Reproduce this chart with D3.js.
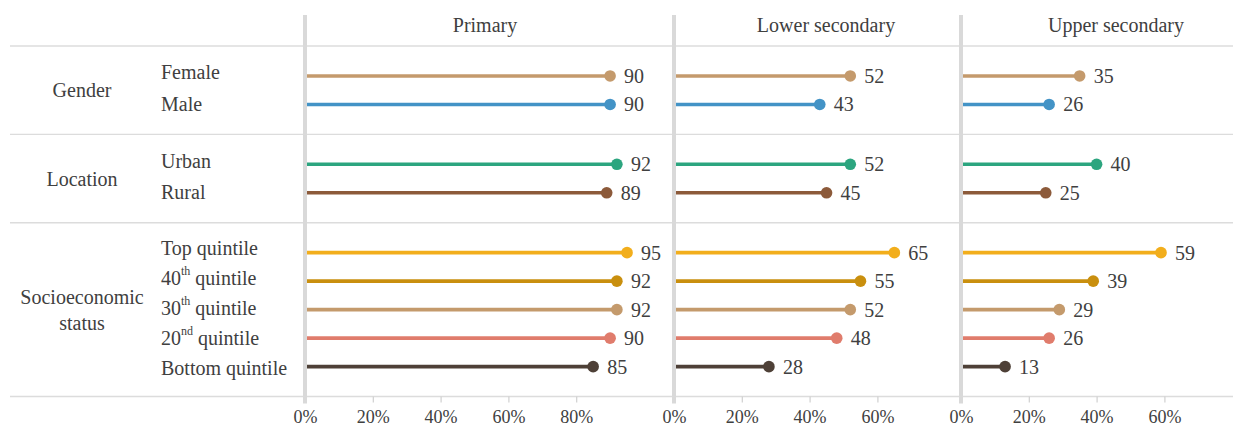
<!DOCTYPE html>
<html>
<head>
<meta charset="utf-8">
<script src="https://cdn.jsdelivr.net/npm/d3@7"></script>
<style>
  html, body { margin: 0; padding: 0; background: #fff; }
  svg { display: block; }
  text { font-family: "Liberation Serif", "DejaVu Serif", serif; fill: #404040; }
</style>
</head>
<body>
<svg id="chart" width="1237" height="426"></svg>
<script>
// ---------- data ----------
const groups = ["Gender", "Location", "Socioeconomic status"];
const groupRows = [
  ["Female", "Male"],
  ["Urban", "Rural"],
  ["Top quintile", "40th quintile", "30th quintile", "20nd quintile", "Bottom quintile"]
];
const levels = ["Primary", "Lower secondary", "Upper secondary"];
const primary        = [90, 90, 92, 89, 95, 92, 92, 90, 85];
const lowerSecondary = [52, 43, 52, 45, 65, 55, 52, 48, 28];
const upperSecondary = [35, 26, 40, 25, 59, 39, 29, 26, 13];
const rowColors = ["#c49a6c", "#4393c6", "#2ca57f", "#8c5a3a", "#f2ae1c", "#c98f0e", "#c49a6c", "#e07c6c", "#4e4037"];
const tickValues = [[0, 20, 40, 60, 80], [0, 20, 40, 60], [0, 20, 40, 60]];
const domainMax = [108.8, 84.7, 79.6];

// ---------- layout ----------
const svg = d3.select("#chart");
const pxPerPct = 3.39;
const panelStart = [305, 674, 961];
const titleX = [485, 826, 1116];
const topY = 46, step = 28.5, groupPad = 1.05;
const leftEdge = 10, rightEdge = 1233;

const seriesByLevel = [primary, lowerSecondary, upperSecondary];
const allRows = groupRows.flat();

// group bands
let gTop = topY;
const groupBands = groupRows.map(rows => {
  const h = (rows.length - 1 + 2 * groupPad) * step;
  const b = { y0: gTop, y1: gTop + h };
  gTop += h;
  return b;
});
const bottomY = gTop;

// y scales per group (marks) and label scales
const yMark = {};
const yLabel = {};
groupRows.forEach((rows, gi) => {
  const b = groupBands[gi];
  const s = d3.scalePoint().domain(rows).range([b.y0, b.y1]).padding(groupPad);
  const l = d3.scalePoint().domain(rows).range([b.y0, b.y1]).padding(0.9);
  rows.forEach(r => { yMark[r] = s(r); yLabel[r] = l(r) - 2; });
});

// x scales per panel
const xScales = levels.map((lv, i) =>
  d3.scaleLinear().domain([0, domainMax[i]]).range([panelStart[i], panelStart[i] + domainMax[i] * pxPerPct])
);

// horizontal grid lines
const hLines = [groupBands[0].y0, ...groupBands.map(b => b.y1)];
svg.append("g").selectAll("line").data(hLines).join("line")
  .attr("x1", leftEdge).attr("x2", rightEdge)
  .attr("y1", d => d).attr("y2", d => d)
  .attr("stroke", "#dcdcdc").attr("stroke-width", 1.4);

// axis ticks
levels.forEach((lv, i) => {
  const x = xScales[i];
  const axis = d3.axisBottom(x).tickValues(tickValues[i]).tickFormat(d => d + "%").tickSize(6).tickPadding(4);
  const g = svg.append("g").attr("transform", `translate(0,${bottomY})`).call(axis);
  g.select(".domain").remove();
  g.selectAll(".tick line").attr("stroke", "#d0d0d0").attr("stroke-width", 1.2);
  g.selectAll(".tick text")
    .attr("font-family", "Liberation Serif, serif")
    .attr("font-size", 18).attr("fill", "#404040").attr("dy", "0.9em");
});

// lollipops
levels.forEach((lv, i) => {
  const x = xScales[i];
  const vals = seriesByLevel[i];
  const data = allRows.map((r, k) => ({ row: r, v: vals[k], c: rowColors[k] }));
  const g = svg.append("g");
  g.selectAll("line").data(data).join("line")
    .attr("x1", x(0)).attr("x2", d => x(d.v))
    .attr("y1", d => yMark[d.row]).attr("y2", d => yMark[d.row])
    .attr("stroke", d => d.c).attr("stroke-width", 3.6);
  g.selectAll("circle").data(data).join("circle")
    .attr("cx", d => x(d.v)).attr("cy", d => yMark[d.row]).attr("r", 5.8)
    .attr("fill", d => d.c);
  g.selectAll("text").data(data).join("text")
    .attr("x", d => x(d.v) + 14).attr("y", d => yMark[d.row])
    .attr("dominant-baseline", "central")
    .attr("font-size", 20)
    .text(d => d.v);
});

// panel dividers
svg.append("g").selectAll("line").data(panelStart).join("line")
  .attr("x1", d => d).attr("x2", d => d)
  .attr("y1", 15).attr("y2", bottomY + 7)
  .attr("stroke", "#d9d9d9").attr("stroke-width", 4);

// panel titles
svg.append("g").selectAll("text").data(levels).join("text")
  .attr("x", (d, i) => titleX[i]).attr("y", 31.5)
  .attr("text-anchor", "middle").attr("font-size", 20)
  .text(d => d);

// group labels
groups.forEach((gname, gi) => {
  const b = groupBands[gi];
  const cy = (b.y0 + b.y1) / 2;
  const words = gname === "Socioeconomic status" ? ["Socioeconomic", "status"] : [gname];
  const t = svg.append("text").attr("x", 82).attr("text-anchor", "middle").attr("font-size", 20);
  words.forEach((w, wi) => {
    t.append("tspan").attr("x", 82)
      .attr("y", cy + (wi - (words.length - 1) / 2) * 26)
      .attr("dominant-baseline", "central")
      .text(w);
  });
});

// row labels (with superscript ordinal suffix)
allRows.forEach(r => {
  const t = svg.append("text").attr("x", 161).attr("y", yLabel[r])
    .attr("dominant-baseline", "central").attr("font-size", 20);
  const m = r.match(/^(\d+)(th|nd|st|rd)(.*)$/);
  if (m) {
    t.append("tspan").text(m[1]);
    t.append("tspan").attr("font-size", 12).attr("dy", -7).text(m[2]);
    t.append("tspan").attr("dy", 7).text(m[3]);
  } else {
    t.text(r);
  }
});
</script>
</body>
</html>
